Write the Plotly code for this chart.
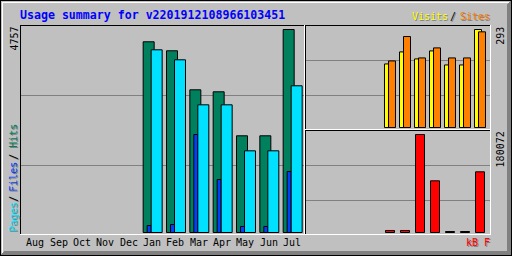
import re
import plotly.graph_objects as go

W, H = 512, 256
GREY, DKGREY = "#C0C0C0", "#808080"
FONT = "DejaVu Sans Mono"

# ---------------- data ----------------
months = ["Aug", "Sep", "Oct", "Nov", "Dec", "Jan", "Feb", "Mar", "Apr", "May", "Jun", "Jul"]
hits   = [0, 0, 0, 0, 0, 4469, 4258, 3344, 3297, 2266, 2266, 4757]
pages  = [0, 0, 0, 0, 0, 4281, 4047, 2992, 2992, 1914, 1914, 3438]
files  = [0, 0, 0, 0, 0, 164, 187, 2296, 1242, 141, 141, 1429]
visits = [0, 0, 0, 0, 0, 190, 226, 205, 229, 187, 187, 293]
sites  = [0, 0, 0, 0, 0, 199, 272, 208, 238, 208, 208, 286]
kbytes = [0, 0, 0, 0, 0, 3700, 3700, 180072, 95000, 1800, 1800, 111500]
title = "Usage summary for v2201912108966103451"

max_main = max(hits + pages + files)
max_vs = max(visits + sites)
max_kb = max(kbytes)

C_HITS, C_FILES, C_PAGES = "#00805C", "#0040FF", "#00E0FF"
C_VIS, C_SITES, C_KB = "#FFFF00", "#FF8000", "#FF0000"

# ------------- pixel helpers -------------
def fx(p):
    return p / W

def fy(r):
    return 1 - r / H

S1, X1 = 70 / 3, 26.5     # main panel: px per month, px of first slot
S2, X2 = 15, 309.5        # right panels
xs = list(range(len(months)))

fig = go.Figure()

def bars(y, color, off_px, w_px, scale, xa, ya):
    return go.Bar(x=xs, y=[v if v > 0 else None for v in y],
                  offset=off_px / scale, width=w_px / scale,
                  marker=dict(color=color, line=dict(color="black", width=1)),
                  xaxis=xa, yaxis=ya, hoverinfo="skip", showlegend=False)

fig.add_trace(bars(hits, C_HITS, 0, 11, S1, "x", "y"))
fig.add_trace(bars(files, C_FILES, 4, 4, S1, "x", "y"))
fig.add_trace(bars(pages, C_PAGES, 8, 11, S1, "x", "y"))
fig.add_trace(bars(visits, C_VIS, 0, 7, S2, "x2", "y2"))
fig.add_trace(bars(sites, C_SITES, 4, 7, S2, "x2", "y2"))
fig.add_trace(bars(kbytes, C_KB, 1, 9, S2, "x3", "y3"))

ax = dict(showgrid=False, zeroline=False, showticklabels=False, showline=False,
          ticks="", fixedrange=True)

# ------------- shapes (frames, grid) -------------
shapes = []
def prect(x0, y0, x1, y1, color, layer="above"):
    shapes.append(dict(type="rect", xref="paper", yref="paper",
                       x0=fx(x0), x1=fx(x1), y0=fy(y1), y1=fy(y0),
                       fillcolor=color, line=dict(width=0), layer=layer))

# outer border + bevel
prect(0, 0, W, 1, "black"); prect(0, H - 1, W, H, "black")
prect(0, 0, 1, H, "black"); prect(W - 1, 0, W, H, "black")
prect(2, 2, W - 3, 3, "white"); prect(2, 2, 3, H - 3, "white")
for i in range(1, 5):
    prect(i, H - i - 1, W - i, H - i, DKGREY)
    prect(W - i - 1, i, W - i, H - i, DKGREY)

# grid lines
for r in (95, 165):
    prect(21, r, 304, r + 1, DKGREY, "below")
for r in (60, 95):
    prect(306, r, 490, r + 1, DKGREY, "below")
for r in (165, 200):
    prect(306, r, 490, r + 1, DKGREY, "below")

# main panel frame
prect(20, 25, 305, 26, "black"); prect(20, 25, 21, 235, "black")
prect(20, 234, 305, 235, "white"); prect(304, 25, 305, 235, "white")
# top-right frame
prect(305, 25, 491, 26, "black"); prect(305, 25, 306, 130, "black")
prect(305, 129, 491, 130, "white"); prect(490, 25, 491, 130, "white")
# bottom-right frame
prect(305, 130, 491, 131, "black"); prect(305, 130, 306, 235, "black")
prect(305, 234, 491, 235, "white"); prect(490, 130, 491, 235, "white")

# ------------- text -------------
anns = []
def _strip(s):
    return re.sub(r"<[^>]+>", "", s)

def text(s, px, py, color, size=10, angle=0, xanchor="center", bold=False,
         shadow=False, xref="paper", xval=None):
    for sh in ([1, 0] if shadow else [0]):
        anns.append(dict(
            text=(s if sh == 0 else _strip(s)),
            xref=xref, yref="paper",
            x=(xval if xref != "paper" else fx(px + sh)),
            y=fy(py + sh), xanchor=xanchor, yanchor="middle",
            showarrow=False, textangle=angle, borderpad=0, borderwidth=0,
            font=dict(family=FONT, size=size, color=(DKGREY if sh else color),
                      weight=("bold" if bold else "normal"))))

text(title, 20, 15, "#0000FF", size=11.6, xanchor="left", bold=True)

for i, m in enumerate(months):
    text(m, 0, 242.3, "black", xref="x", xval=i + 8.8 / S1)

text(str(max_main), 13.5, 39, "black", angle=-90)
text(str(max_vs), 499.8, 36, "black", angle=-90)
text(str(max_kb), 500.2, 149.2, "black", angle=-90)

# left legend, drawn piecewise bottom-to-top
text("Pages", 12.8, 217, C_PAGES, angle=-90, shadow=True)
text("/", 12.8, 199, "black", angle=-90, shadow=True)
text("Files", 12.8, 177, C_FILES, angle=-90, shadow=True)
text("/", 12.8, 157, "black", angle=-90, shadow=True)
text("Hits", 12.8, 136, C_HITS, angle=-90, shadow=True)

text("Visits", 411.7, 16.5, C_VIS, xanchor="left", shadow=True)
text("/", 452.7, 16.5, "black", shadow=True)
text("Sites", 460, 16.5, C_SITES, xanchor="left", shadow=True)
text("kB F", 466, 242.8, C_KB, xanchor="left", shadow=True)

fig.update_layout(
    width=W, height=H, autosize=False,
    margin=dict(l=0, r=0, t=0, b=0, pad=0),
    paper_bgcolor=GREY, plot_bgcolor="rgba(0,0,0,0)",
    barmode="overlay", showlegend=False,
    font=dict(family=FONT),
    xaxis=dict(domain=[fx(21), fx(304)], range=[(21 - X1) / S1, (304 - X1) / S1], anchor="y", **ax),
    yaxis=dict(domain=[fy(234), fy(26)],
               range=[(232.5 - 234) * max_main / 203, (232.5 - 26) * max_main / 203], anchor="x", **ax),
    xaxis2=dict(domain=[fx(306), fx(490)], range=[(306 - X2) / S2, (490 - X2) / S2], anchor="y2", **ax),
    yaxis2=dict(domain=[fy(129), fy(26)],
                range=[(127.5 - 129) * max_vs / 98, (127.5 - 26) * max_vs / 98], anchor="x2", **ax),
    xaxis3=dict(domain=[fx(306), fx(490)], range=[(306 - X2) / S2, (490 - X2) / S2], anchor="y3", **ax),
    yaxis3=dict(domain=[fy(234), fy(131)],
                range=[(232.5 - 234) * max_kb / 98, (232.5 - 131) * max_kb / 98], anchor="x3", **ax),
    shapes=shapes, annotations=anns,
)

fig.write_html("out.html", config={"displayModeBar": False, "staticPlot": True})
